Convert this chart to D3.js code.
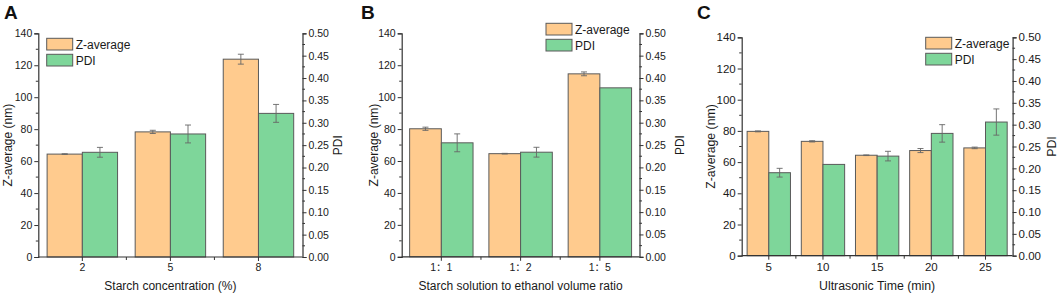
<!DOCTYPE html>
<html><head><meta charset="utf-8">
<script src="https://cdn.jsdelivr.net/npm/d3@7"></script>
<style>
html,body{margin:0;padding:0;background:#fff;}
svg{display:block;font-family:"Liberation Sans",Arial,sans-serif;}
</style></head>
<body><svg id="chart" width="1059" height="294"></svg>
<script>
// ---- data ----
const seriesNames = ["Z-average", "PDI"];
const zTicks = [0, 20, 40, 60, 80, 100, 120, 140];
const pdiTicks = [0, 0.05, 0.10, 0.15, 0.20, 0.25, 0.30, 0.35, 0.40, 0.45, 0.50];

const catsA = ["2", "5", "8"];
const zA = [64.4, 78.3, 123.8];
const zErrA = [0.2, 1.0, 3.1];
const pdiA = [0.234, 0.275, 0.321];
const pdiErrA = [0.011, 0.020, 0.020];

const catsB = ["1：1", "1：2", "1：5"];
const zB = [80.2, 64.6, 114.6];
const zErrB = [1.0, 0.2, 1.2];
const pdiB = [0.255, 0.234, 0.378];
const pdiErrB = [0.020, 0.011, 0.0];

const catsC = ["5", "10", "15", "20", "25"];
const zC = [79.7, 73.3, 64.4, 67.4, 69.1];
const zErrC = [0.3, 0.4, 0.2, 1.3, 0.5];
const pdiC = [0.190, 0.209, 0.228, 0.280, 0.306];
const pdiErrC = [0.010, 0.0, 0.011, 0.020, 0.030];

const xTitles = ["Starch concentration (%)", "Starch solution to ethanol volume ratio", "Ultrasonic Time (min)"];
const panelLetters = ["A", "B", "C"];

// ---- layout / style ----
const svg = d3.select("#chart");
const ORANGE = "#FFCB8E", GREEN = "#7ED69A", STROKE = "#5a5a5a", AXIS = "#333", TEXT = "#1a1a1a";

const panels = [
  {cats: catsA, z: zA, zErr: zErrA, pdi: pdiA, pdiErr: pdiErrA,
   left: 38.3, right: 302.5, top: 33.3, bottom: 257, tickFs: 10.5, titleFs: 12,
   letterX: 4, legX: 46.7, legY: 38.3, yTitleX: 8, rTitleX: 338},
  {cats: catsB, z: zB, zErr: zErrB, pdi: pdiB, pdiErr: pdiErrB,
   left: 401.7, right: 639.5, top: 33.3, bottom: 256.8, tickFs: 10.5, titleFs: 12,
   letterX: 361, legX: 546, legY: 23.3, yTitleX: 374, rTitleX: 680},
  {cats: catsC, z: zC, zErr: zErrC, pdi: pdiC, pdiErr: pdiErrC,
   left: 741.7, right: 1012.6, top: 37.3, bottom: 255.7, tickFs: 11.5, titleFs: 12.3,
   letterX: 697, legX: 925.7, legY: 37.3, yTitleX: 711, rTitleX: 1052}
];

panels.forEach((p, i) => {
  const g = svg.append("g");
  const x0 = d3.scaleBand().domain(p.cats).range([p.left, p.right]).paddingInner(0.2).paddingOuter(0.1);
  const x1 = d3.scaleBand().domain(seriesNames).range([0, x0.bandwidth()]);
  const yZ = d3.scaleLinear().domain([0, 140]).range([p.bottom, p.top]);
  const yP = d3.scaleLinear().domain([0, 0.5]).range([p.bottom, p.top]);

  // bars
  p.cats.forEach((c, j) => {
    const gx = x0(c);
    g.append("rect").attr("x", gx + x1("Z-average")).attr("y", yZ(p.z[j]))
      .attr("width", x1.bandwidth()).attr("height", yZ(0) - yZ(p.z[j]))
      .attr("fill", ORANGE).attr("stroke", STROKE).attr("stroke-width", 1);
    g.append("rect").attr("x", gx + x1("PDI")).attr("y", yP(p.pdi[j]))
      .attr("width", x1.bandwidth()).attr("height", yP(0) - yP(p.pdi[j]))
      .attr("fill", GREEN).attr("stroke", STROKE).attr("stroke-width", 1);
  });
  // error bars
  const errs = [];
  p.cats.forEach((c, j) => {
    errs.push({cx: x0(c) + x1("Z-average") + x1.bandwidth() / 2, hi: yZ(p.z[j] + p.zErr[j]), lo: yZ(p.z[j] - p.zErr[j]), e: p.zErr[j]});
    errs.push({cx: x0(c) + x1("PDI") + x1.bandwidth() / 2, hi: yP(p.pdi[j] + p.pdiErr[j]), lo: yP(p.pdi[j] - p.pdiErr[j]), e: p.pdiErr[j]});
  });
  errs.filter(d => d.e > 0).forEach(d => {
    const eg = g.append("g").attr("stroke", "#666").attr("stroke-width", 0.9);
    eg.append("line").attr("x1", d.cx).attr("x2", d.cx).attr("y1", d.hi).attr("y2", d.lo);
    eg.append("line").attr("x1", d.cx - 3).attr("x2", d.cx + 3).attr("y1", d.hi).attr("y2", d.hi);
    eg.append("line").attr("x1", d.cx - 3).attr("x2", d.cx + 3).attr("y1", d.lo).attr("y2", d.lo);
  });

  // left axis
  const zMinor = d3.range(10, 140, 20);
  const la = g.append("g").attr("transform", `translate(${p.left},0)`);
  la.call(d3.axisLeft(yZ).tickValues(zTicks).tickFormat(d3.format("d")).tickSize(4).tickPadding(2));
  la.call(s => s.selectAll(".minor").data(zMinor).enter().append("line").attr("class", "minor")
    .attr("x1", -2.5).attr("x2", 0).attr("y1", d => yZ(d)).attr("y2", d => yZ(d)).attr("stroke", AXIS));
  // right axis
  const pMinor = d3.range(0.025, 0.5, 0.05);
  const ra = g.append("g").attr("transform", `translate(${p.right},0)`);
  ra.call(d3.axisRight(yP).tickValues(pdiTicks).tickFormat(d3.format(".2f")).tickSize(4).tickPadding(2));
  ra.call(s => s.selectAll(".minor").data(pMinor).enter().append("line").attr("class", "minor")
    .attr("x1", 0).attr("x2", 2.5).attr("y1", d => yP(d)).attr("y2", d => yP(d)).attr("stroke", AXIS));
  // bottom axis
  const ba = g.append("g").attr("transform", `translate(0,${p.bottom})`);
  ba.call(d3.axisBottom(x0).tickSize(4).tickPadding(3));
  ba.select(".domain").attr("d", `M${p.left},0H${p.right}`);
  const bounds = p.cats.slice(1).map((c, j) => (x0(p.cats[j]) + x0.bandwidth() + x0(c)) / 2);
  ba.selectAll(".minor").data(bounds).enter().append("line").attr("class", "minor")
    .attr("x1", d => d).attr("x2", d => d).attr("y1", 0).attr("y2", 3).attr("stroke", AXIS);

  [la, ra, ba].forEach(a => {
    a.selectAll(".domain").attr("stroke", AXIS).attr("stroke-width", 1.2);
    a.selectAll(".tick line").attr("stroke", AXIS);
    a.selectAll("text").attr("font-size", p.tickFs).attr("fill", TEXT).attr("font-family", '"Liberation Sans",Arial,"Noto Sans CJK SC",sans-serif');
  });

  // titles
  g.append("text").attr("x", (p.left + p.right) / 2).attr("y", 290).attr("text-anchor", "middle")
    .attr("font-size", p.titleFs).attr("fill", TEXT).text(xTitles[i]);
  g.append("text").attr("transform", `translate(${p.yTitleX + 4},${(p.top + p.bottom) / 2}) rotate(-90)`)
    .attr("text-anchor", "middle").attr("font-size", p.titleFs).attr("fill", TEXT).text("Z-average (nm)");
  g.append("text").attr("transform", `translate(${p.rTitleX + 4},${(p.top + p.bottom) / 2}) rotate(-90)`)
    .attr("text-anchor", "middle").attr("font-size", p.titleFs).attr("fill", TEXT).text("PDI");
  g.append("text").attr("x", p.letterX).attr("y", 18.5).attr("font-size", 19).attr("font-weight", "bold")
    .attr("fill", "#111").text(panelLetters[i]);

  // legend
  const colors = [ORANGE, GREEN];
  seriesNames.forEach((n, k) => {
    const ly = p.legY + k * 16;
    g.append("rect").attr("x", p.legX).attr("y", ly).attr("width", 26).attr("height", 11.7)
      .attr("fill", colors[k]).attr("stroke", STROKE).attr("stroke-width", 1);
    g.append("text").attr("x", p.legX + 29).attr("y", ly + 10.5).attr("font-size", 12).attr("fill", TEXT).text(n);
  });
});
</script>
</body></html>
